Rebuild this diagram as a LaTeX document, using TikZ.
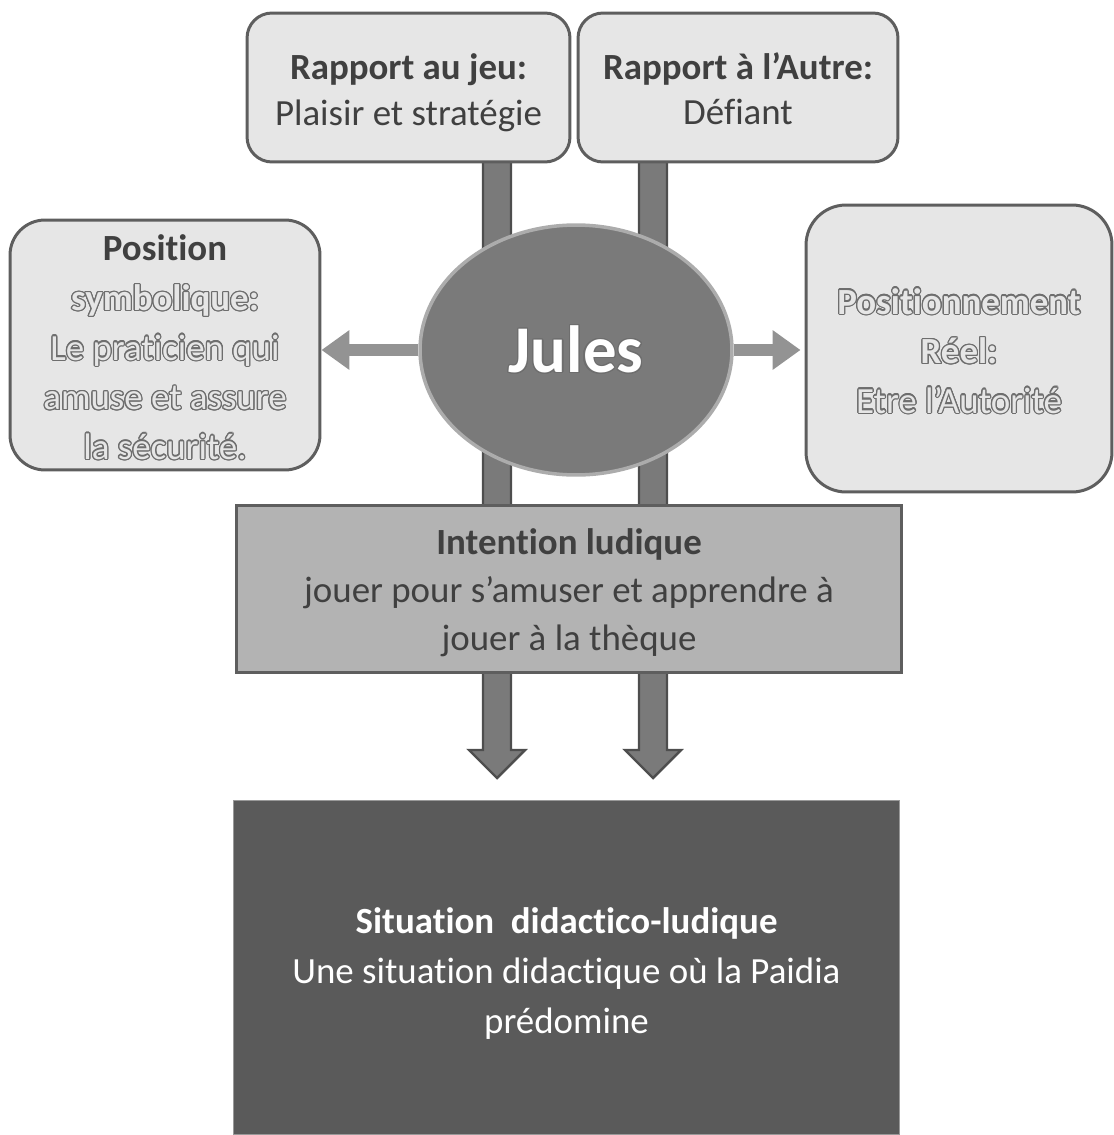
\documentclass[tikz,border=0pt]{standalone}
\usepackage{fontspec}
\setmainfont{Carlito}[Ligatures=NoCommon]
\usepackage{contour}
\contourlength{0.7pt}
\usetikzlibrary{shapes.geometric, arrows.meta}
\pgfdeclarelayer{background}
\pgfsetlayers{background,main}
\definecolor{boxfill}{HTML}{E6E6E6}
\definecolor{boxline}{HTML}{5E5E5E}
\definecolor{barfill}{HTML}{7A7A7A}
\definecolor{barline}{HTML}{4E4E4E}
\definecolor{midfill}{HTML}{B3B3B3}
\definecolor{basefill}{HTML}{5A5A5A}
\definecolor{inktext}{HTML}{404040}
\definecolor{rimgray}{HTML}{6E6E6E}
\newcommand{\hollow}[1]{\textcolor{boxfill}{\contour{rimgray}{#1}}}
\newcommand{\lowstrut}[1]{\rule{0pt}{#1}}
\begin{document}
\begin{tikzpicture}[x=0.02cm, y=-0.02cm,
    every node/.style={font=\fontsize{21}{26}\selectfont, align=center, inner sep=0pt},
    topbox/.style={draw=boxline, line width=1.7pt, fill=boxfill, rounded corners=0.5cm, text=inktext},
    sidebox/.style={topbox, rounded corners=0.7cm, font=\fontsize{21}{28.2}\selectfont},
    flowbar/.style={draw=barline, line width=1.4pt, fill=barfill},
    sidearrow/.style={line width=6.5pt, draw=gray!85, -{Triangle[length=0.56cm, width=0.76cm]}}]
    \useasboundingbox (0,0) rectangle (1113,1135);
    % top boxes
    \node[topbox, minimum width=6.46cm, minimum height=2.98cm] (jeu) at (408.5,87.5)
        {\lowstrut{21pt}\textbf{Rapport au jeu:}\\Plaisir et stratégie};
    \node[topbox, minimum width=6.4cm, minimum height=2.98cm] (autre) at (738,87.5)
        {\lowstrut{21pt}\textbf{Rapport à l’Autre:}\\Défiant\rule[-4.4pt]{0pt}{1pt}};
    % side boxes
    \node[sidebox, minimum width=6.2cm, minimum height=5cm] (sym) at (165,345)
        {\lowstrut{18pt}\textbf{Position}\\\hollow{\textbf{symbolique:}}\\\hollow{Le praticien qui}\\\hollow{amuse et assure}\\\hollow{la sécurité.}};
    \node[sidebox, rounded corners=0.8cm, minimum width=6.12cm, minimum height=5.74cm] (reel) at (959,348.5)
        {\lowstrut{18pt}\hollow{\textbf{Positionnement}}\\\hollow{\textbf{Réel:}}\\\hollow{Etre l’Autorité}};
    % centre
    \node[ellipse, draw=gray!65, line width=2pt, fill=barfill, minimum width=6.24cm, minimum height=5cm,
        font=\fontsize{38}{44}\selectfont\bfseries] (jules) at (576,350)
        {\textcolor{white}{\contour{rimgray}{Jules}}};
    \node[draw=boxline, line width=1.7pt, fill=midfill, text=inktext, minimum width=13.32cm, minimum height=3.36cm,
        font=\fontsize{21}{27.3}\selectfont] (intent) at (569,589)
        {\lowstrut{19pt}\textbf{Intention ludique}\\jouer pour s’amuser et apprendre à\\jouer à la thèque};
    \node[draw=gray!80, line width=0.6pt, fill=basefill, text=white, minimum width=13.34cm, minimum height=6.7cm,
        font=\fontsize{21}{28.5}\selectfont] (base) at (566.5,967.5)
        {\lowstrut{22pt}\textbf{Situation\ \ didactico-ludique}\\Une situation didactique où la Paidia\\prédomine};
    % connectors
    \coordinate (tipA) at (497,778);
    \coordinate (tipB) at (653,778);
    \begin{pgfonlayer}{background}
        \foreach \tip in {tipA, tipB}
            \filldraw[flowbar] (\tip) -- ++(28,-28) -- ++(-14,0) -- ++(0,-600) -- ++(-28,0) -- ++(0,600) -- ++(-14,0) -- cycle;
    \end{pgfonlayer}
    \draw[sidearrow] (jules.west) -- (jules.west -| sym.east);
    \draw[sidearrow] (jules.east) -- ([xshift=-4*0.02cm]jules.east -| reel.west);
\end{tikzpicture}
\end{document}
